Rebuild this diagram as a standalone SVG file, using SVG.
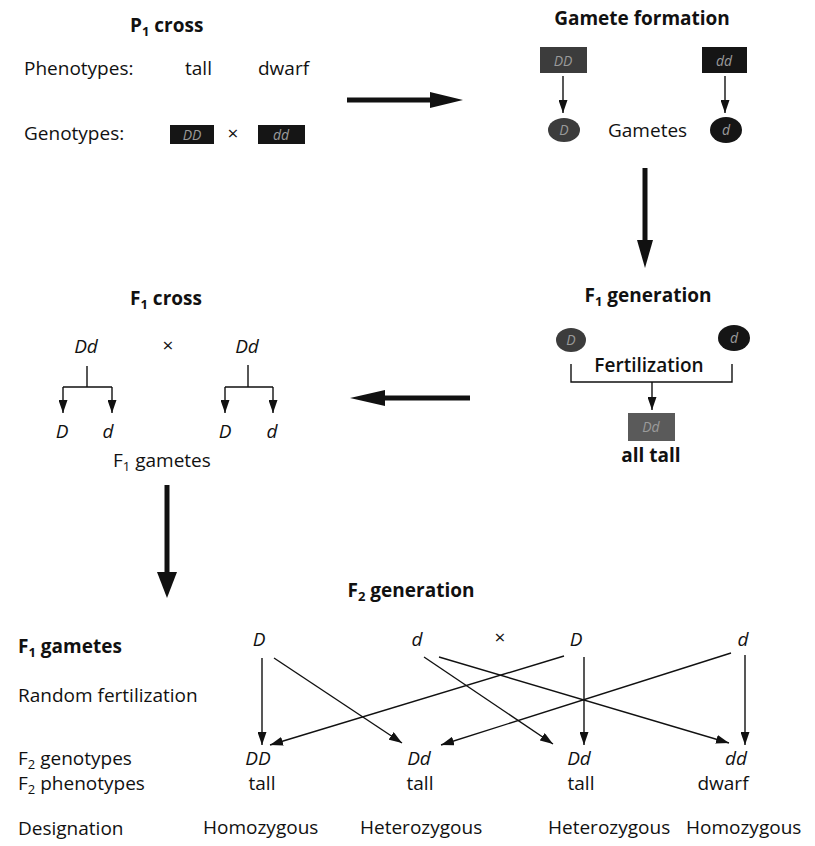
<svg xmlns="http://www.w3.org/2000/svg" width="815" height="846" viewBox="0 0 815 846">
<style>
text{font-family:"Open Sans","DejaVu Sans",sans-serif;font-size:19px;fill:#111}
.b{font-weight:700}
.sb{font-weight:600}
.i{font-style:italic}
.m{text-anchor:middle}
.thin{stroke:#111;stroke-width:1.4;fill:none}
.thick{stroke:#111;stroke-width:5;fill:none}
.box{fill:#151515}
.gbox{fill:#3c3c3c}
.gray{fill:#5a5a5a}
.in{fill:#9a9a9a;font-style:italic;font-size:14px;text-anchor:middle}
.head{fill:#111}
</style>
<defs>
<marker id="ah" viewBox="0 0 13 9" refX="13" refY="4.5" markerWidth="13" markerHeight="9" markerUnits="userSpaceOnUse" orient="auto">
<path d="M0,0 L13,4.5 L0,9 z" fill="#111"/>
</marker>
</defs>

<g id="p1-cross">
<text class="b" x="130" y="32">P<tspan font-size="13" dy="4">1</tspan><tspan dy="-4"> cross</tspan></text>
<text x="24" y="75">Phenotypes:</text>
<text x="185" y="75">tall</text>
<text x="258" y="75">dwarf</text>
<text x="24" y="140">Genotypes:</text>
<rect class="box" x="170" y="125" width="44" height="19"/>
<text class="in" x="192" y="140">DD</text>
<text class="m" x="233" y="140">×</text>
<rect class="box" x="258" y="125" width="47" height="19"/>
<text class="in" x="281" y="140">dd</text>
</g>

<g id="gamete-formation">
<text class="b m" x="642" y="25">Gamete formation</text>
<rect class="gbox" x="540" y="47" width="47" height="26"/>
<text class="in" x="563" y="66">DD</text>
<rect class="box" x="702" y="47" width="45" height="26"/>
<text class="in" x="724" y="66">dd</text>
<ellipse class="gbox" cx="564" cy="130" rx="16" ry="12"/>
<text class="in" x="564" y="135">D</text>
<text x="608" y="137">Gametes</text>
<ellipse class="box" cx="726" cy="130" rx="16" ry="13"/>
<text class="in" x="726" y="135">d</text>
</g>

<g id="f1-generation">
<text class="b m" x="648" y="302">F<tspan font-size="13" dy="4">1</tspan><tspan dy="-4"> generation</tspan></text>
<ellipse class="gbox" cx="571" cy="340" rx="15" ry="12"/>
<text class="in" x="571" y="345">D</text>
<ellipse class="box" cx="734" cy="338" rx="16" ry="13"/>
<text class="in" x="734" y="343">d</text>
<text class="sb m" x="649" y="372">Fertilization</text>
<rect class="gray" x="628" y="413" width="47" height="28"/>
<text class="in" x="651" y="432" fill="#c8c8c8">Dd</text>
<text class="b m" x="651" y="462">all tall</text>
</g>

<g id="f1-cross">
<text class="b m" x="166" y="305">F<tspan font-size="13" dy="4">1</tspan><tspan dy="-4"> cross</tspan></text>
<text class="i m" x="86" y="353">Dd</text>
<text class="m" x="168" y="352">×</text>
<text class="i m" x="247" y="353">Dd</text>
<text class="i m" x="62" y="438">D</text>
<text class="i m" x="108" y="438">d</text>
<text class="i m" x="225" y="438">D</text>
<text class="i m" x="272" y="438">d</text>
<text x="113" y="467">F<tspan font-size="13" dy="4">1</tspan><tspan dy="-4"> gametes</tspan></text>
</g>

<g id="f2-generation">
<text class="b m" x="411" y="597">F<tspan font-size="13" dy="4">2</tspan><tspan dy="-4"> generation</tspan></text>
<text class="b" x="18" y="653">F<tspan font-size="13" dy="4">1</tspan><tspan dy="-4"> gametes</tspan></text>
<text x="18" y="702">Random fertilization</text>
<text x="18" y="765">F<tspan font-size="13" dy="4">2</tspan><tspan dy="-4"> genotypes</tspan></text>
<text x="18" y="790">F<tspan font-size="13" dy="4">2</tspan><tspan dy="-4"> phenotypes</tspan></text>
<text x="18" y="835">Designation</text>
<text class="i m" x="259" y="646">D</text>
<text class="i m" x="417" y="646">d</text>
<text class="m" x="500" y="644">×</text>
<text class="i m" x="576" y="646">D</text>
<text class="i m" x="743" y="646">d</text>
<text class="i m" x="258" y="765">DD</text>
<text class="i m" x="419" y="765">Dd</text>
<text class="i m" x="579" y="765">Dd</text>
<text class="i m" x="736" y="765">dd</text>
<text class="m" x="262" y="790">tall</text>
<text class="m" x="420" y="790">tall</text>
<text class="m" x="581" y="790">tall</text>
<text class="m" x="723" y="790">dwarf</text>
<text x="203" y="834">Homozygous</text>
<text x="360" y="834">Heterozygous</text>
<text x="548" y="834">Heterozygous</text>
<text x="686" y="834">Homozygous</text>
</g>

<g id="connectors">
<line class="thick" x1="347" y1="100" x2="433" y2="100"/>
<polygon class="head" points="430,92 463,100 430,108"/>
<line class="thick" x1="645" y1="168" x2="645" y2="242"/>
<polygon class="head" points="637,240 653,240 645,268"/>
<line class="thick" x1="470" y1="398" x2="382" y2="398"/>
<polygon class="head" points="385,390 350,398 385,406"/>
<line class="thick" x1="167" y1="485" x2="167" y2="574"/>
<polygon class="head" points="157,572 177,572 167,598"/>

<line class="thin" x1="563" y1="76" x2="563" y2="113" marker-end="url(#ah)"/>
<line class="thin" x1="725" y1="76" x2="725" y2="113" marker-end="url(#ah)"/>
<path class="thin" d="M571,364 V382 H732 V364"/>
<line class="thin" x1="652" y1="382" x2="652" y2="410" marker-end="url(#ah)"/>

<path class="thin" d="M87,366 V387 M63,387 H112"/>
<line class="thin" x1="63" y1="387" x2="63" y2="413" marker-end="url(#ah)"/>
<line class="thin" x1="112" y1="387" x2="112" y2="413" marker-end="url(#ah)"/>
<path class="thin" d="M248,365 V387 M225,387 H273"/>
<line class="thin" x1="225" y1="387" x2="225" y2="413" marker-end="url(#ah)"/>
<line class="thin" x1="273" y1="387" x2="273" y2="413" marker-end="url(#ah)"/>

<line class="thin" x1="262" y1="658" x2="262" y2="745" marker-end="url(#ah)"/>
<line class="thin" x1="274" y1="658" x2="402" y2="743" marker-end="url(#ah)"/>
<line class="thin" x1="424" y1="657" x2="553" y2="744" marker-end="url(#ah)"/>
<line class="thin" x1="439" y1="657" x2="729" y2="743" marker-end="url(#ah)"/>
<line class="thin" x1="564" y1="656" x2="270" y2="745" marker-end="url(#ah)"/>
<line class="thin" x1="584" y1="657" x2="584" y2="745" marker-end="url(#ah)"/>
<line class="thin" x1="731" y1="653" x2="441" y2="745" marker-end="url(#ah)"/>
<line class="thin" x1="745" y1="655" x2="745" y2="745" marker-end="url(#ah)"/>
</g>
</svg>
